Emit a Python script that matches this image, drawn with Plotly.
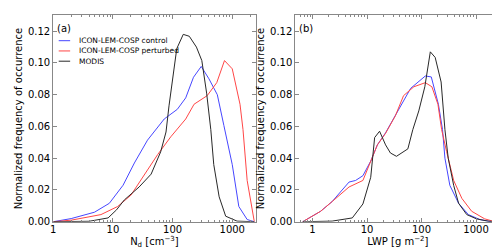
import plotly.graph_objects as go

# ---------------- data ----------------
# Panel (a): cloud droplet number concentration N_d [cm^-3]
nd_control_x = [1, 2.0, 4.9, 8.7, 14.8, 22.9, 38, 52.5, 72.4, 120, 166, 224, 302, 407, 562, 724, 1000, 1288, 1778, 2344]
nd_control_y = [0, 0.002, 0.006, 0.0116, 0.023, 0.037, 0.0514, 0.058, 0.0647, 0.0708, 0.078, 0.091, 0.0978, 0.090, 0.080, 0.0606, 0.036, 0.0096, 0.0014, 0]

nd_perturbed_x = [1, 2.0, 6.3, 12, 20, 33.9, 56.2, 93.3, 117.5, 166, 229, 380, 550, 741, 1000, 1349, 1514, 1778, 2344]
nd_perturbed_y = [0, 0.001, 0.0045, 0.0096, 0.0167, 0.030, 0.0423, 0.0535, 0.058, 0.0647, 0.074, 0.0794, 0.0876, 0.1015, 0.0963, 0.074, 0.058, 0.026, 0]

nd_modis_x = [1, 4.0, 8.3, 11.5, 15.5, 27.5, 43.7, 63.1, 77.6, 87.1, 117.5, 151, 190.5, 251, 309, 372, 437, 490, 603, 776, 1202, 2344]
nd_modis_y = [0, 0.0003, 0.0024, 0.0075, 0.0137, 0.0219, 0.030, 0.044, 0.0565, 0.073, 0.109, 0.118, 0.1168, 0.110, 0.1015, 0.081, 0.058, 0.036, 0.0157, 0.0035, 0.0004, 0]

# Panel (b): liquid water path LWP [g m^-2]
lwp_control_x = [0.66, 1.41, 2.29, 4.68, 6.17, 8.41, 11.7, 15.5, 21.9, 33.1, 63.1, 117.5, 151, 204, 243, 269, 331, 479, 724, 1175, 1905]
lwp_control_y = [0, 0.0066, 0.0127, 0.025, 0.026, 0.029, 0.0382, 0.0484, 0.056, 0.0667, 0.084, 0.0918, 0.0912, 0.074, 0.058, 0.040, 0.0229, 0.0116, 0.0045, 0.0014, 0]

lwp_perturbed_x = [0.66, 1.41, 2.29, 4.68, 8.41, 11.7, 15.5, 21.9, 33.1, 46.8, 72.4, 117.5, 155, 200, 234, 288, 389, 550, 832, 1445, 2239]
lwp_perturbed_y = [0, 0.0066, 0.0127, 0.0219, 0.026, 0.0382, 0.0484, 0.0557, 0.0667, 0.0794, 0.085, 0.0876, 0.085, 0.074, 0.058, 0.0443, 0.026, 0.0147, 0.0066, 0.0018, 0]

lwp_modis_x = [0.66, 2.29, 5.37, 8.41, 11.7, 13.8, 17.0, 21.9, 26.9, 34.7, 56.2, 69.2, 89.1, 115, 145, 178, 229, 269, 309, 389, 479, 676, 1023, 1660, 2512]
lwp_modis_y = [0, 0.0004, 0.0024, 0.0112, 0.028, 0.053, 0.057, 0.0484, 0.0433, 0.0412, 0.0459, 0.058, 0.0698, 0.085, 0.107, 0.1035, 0.088, 0.058, 0.040, 0.0229, 0.0116, 0.0045, 0.0018, 0.0004, 0]

series_names = ["ICON-LEM-COSP control", "ICON-LEM-COSP perturbed", "MODIS"]
series_colors = ["rgb(70,70,255)", "rgb(255,70,70)", "rgb(40,40,40)"]
xtick_vals = [1, 10, 100, 1000]
xtick_text = ["1", "10", "100", "1000"]
ytick_vals = [0, 0.02, 0.04, 0.06, 0.08, 0.10, 0.12]
ytick_text = ["0.00", "0.02", "0.04", "0.06", "0.08", "0.10", "0.12"]

# ---------------- figure ----------------
W, H = 500, 250
FONT = "DejaVu Sans"
fig = go.Figure()

panel_a = [(nd_control_x, nd_control_y), (nd_perturbed_x, nd_perturbed_y), (nd_modis_x, nd_modis_y)]
panel_b = [(lwp_control_x, lwp_control_y), (lwp_perturbed_x, lwp_perturbed_y), (lwp_modis_x, lwp_modis_y)]

for (x, y), name, col in zip(panel_a, series_names, series_colors):
    fig.add_trace(go.Scatter(x=x, y=y, mode="lines", name=name, line=dict(color=col, width=1),
                             xaxis="x", yaxis="y", showlegend=False))
for (x, y), name, col in zip(panel_b, series_names, series_colors):
    fig.add_trace(go.Scatter(x=x, y=y, mode="lines", name=name, line=dict(color=col, width=1),
                             xaxis="x2", yaxis="y2", showlegend=False))

def px(v):
    return v / W

def py(v):
    return 1 - v / H

frame = "#888888"
common_x = dict(type="log", showgrid=False, zeroline=False, showline=True, linecolor=frame, linewidth=1,
                mirror="allticks", ticks="inside", ticklen=4, tickcolor=frame,
                tickvals=xtick_vals, ticktext=xtick_text, ticklabelstandoff=-2,
                tickfont=dict(family=FONT, size=10, color="black"),
                minor=dict(ticks="inside", ticklen=2, tickcolor=frame, dtick="D1"))
common_y = dict(range=[0, 0.13], showgrid=False, zeroline=False, showline=True, linecolor=frame, linewidth=1,
                mirror="allticks", ticks="inside", ticklen=4, tickcolor=frame,
                tickvals=ytick_vals, ticktext=ytick_text,
                tickfont=dict(family=FONT, size=10, color="black"),
                title=dict(text="Normalized frequency of occurrence", font=dict(family=FONT, size=10, color="black"), standoff=3))

ax_top, ax_bot = 7.5, 219
fig.update_layout(
    width=W, height=H, margin=dict(l=0, r=0, t=0, b=0),
    paper_bgcolor="white", plot_bgcolor="white",
    xaxis=dict(common_x, domain=[px(42.5), px(246)], range=[0, 3.39], anchor="y",
               title=dict(text="N<sub>d</sub> [cm<sup>−3</sup>]", font=dict(family=FONT, size=10, color="black"), standoff=1)),
    yaxis=dict(common_y, domain=[py(ax_bot), py(ax_top)], anchor="x"),
    xaxis2=dict(common_x, domain=[px(286), px(492.5)], range=[-0.316, 3.45], anchor="y2",
                title=dict(text="LWP [g m<sup>−2</sup>]", font=dict(family=FONT, size=10, color="black"), standoff=1)),
    yaxis2=dict(common_y, domain=[py(ax_bot), py(ax_top)], anchor="x2"),
)

# panel labels
fig.add_annotation(text="(a)", xref="paper", yref="paper", x=px(44.5), y=py(21), xanchor="left", yanchor="middle",
                   showarrow=False, font=dict(family=FONT, size=10, color="black"))
fig.add_annotation(text="(b)", xref="paper", yref="paper", x=px(288), y=py(21), xanchor="left", yanchor="middle",
                   showarrow=False, font=dict(family=FONT, size=10, color="black"))

# legend (drawn manually, matplotlib style)
leg_y = [33.5, 44, 54.5]
for yy, name, col in zip(leg_y, series_names, series_colors):
    fig.add_shape(type="line", xref="paper", yref="paper", x0=px(48), x1=px(59.5), y0=py(yy), y1=py(yy),
                  line=dict(color=col, width=1))
    fig.add_annotation(text=name, xref="paper", yref="paper", x=px(66), y=py(yy), xanchor="left", yanchor="middle",
                       showarrow=False, font=dict(family=FONT, size=7.5, color="black"))

fig.write_html("out.html")
